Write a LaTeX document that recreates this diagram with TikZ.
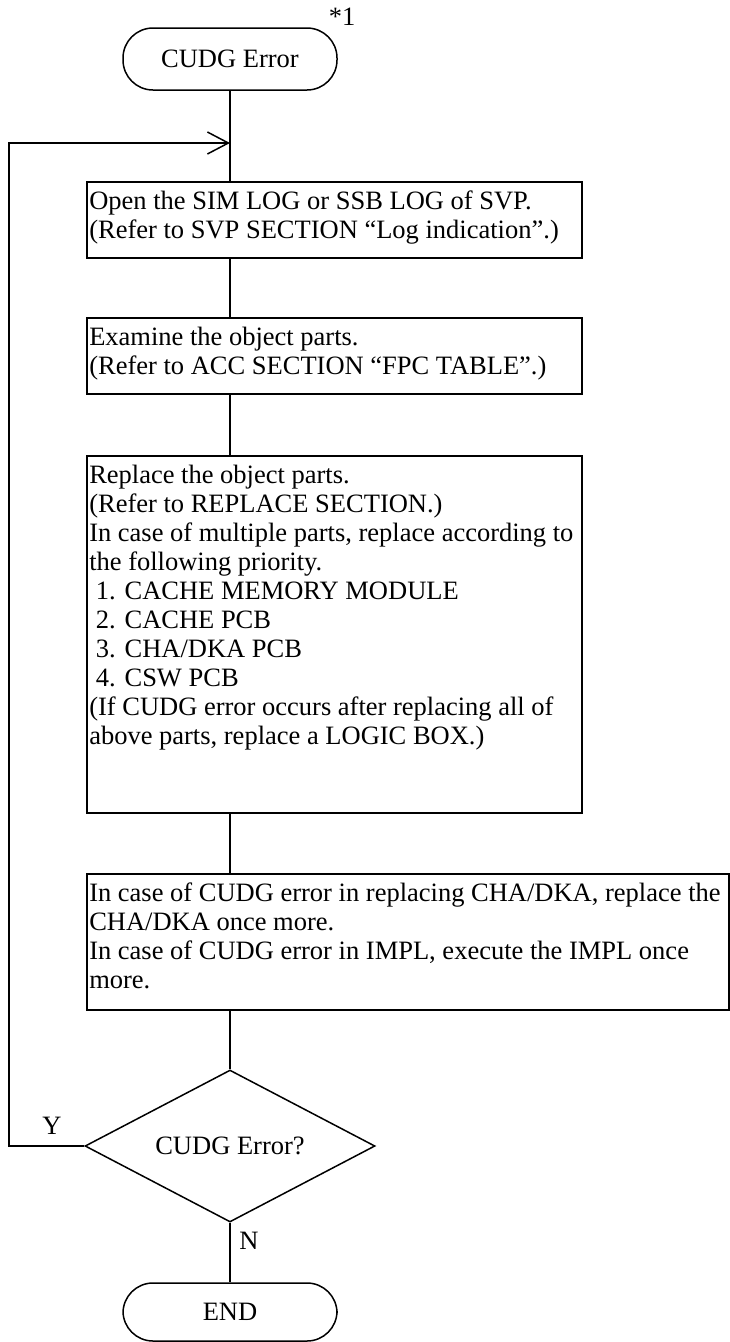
\documentclass[tikz,border=0pt]{standalone}
\usepackage{fontspec}
\setmainfont{Liberation Serif}
\usetikzlibrary{arrows.meta}
\usetikzlibrary{shapes.geometric}
\newcommand{\flowtext}[3]{\parbox[t][#2][t]{#1}{\rule{0pt}{23pt}#3}}
\newcommand{\itemsp}{\hspace*{0.25em}}

\begin{document}
\begin{tikzpicture}[x=1pt,y=-1pt,line width=1.5pt]
\tikzstyle{every node}=[font=\fontsize{26.5}{29}\selectfont]
\tikzstyle{term}=[draw,rounded corners=30pt,minimum width=214pt,minimum height=62pt]
\tikzstyle{proc}=[draw,anchor=north west,inner xsep=2.5pt,inner ysep=5pt]
\useasboundingbox (0,0) rectangle (729,1342);
\node[term] (start) at (230,59) {CUDG Error};
\node (mark) at (342,17) {*1};
\node[proc] (b1) at (86,181) {\flowtext{490pt}{66pt}{Open the SIM LOG or SSB LOG of SVP.\\
(Refer to SVP SECTION “Log indication”.)}};
\node[proc] (b2) at (86,317) {\flowtext{490pt}{66pt}{Examine the object parts.\\
(Refer to ACC SECTION “FPC TABLE”.)}};
\node[proc] (b3) at (86,455) {\flowtext{490pt}{347pt}{Replace the object parts.\\
(Refer to REPLACE SECTION.)\\
In case of multiple parts, replace according to\\
the following priority.\\
\itemsp 1. CACHE MEMORY MODULE\\
\itemsp 2. CACHE PCB\\
\itemsp 3. CHA/DKA PCB\\
\itemsp 4. CSW PCB\\
(If CUDG error occurs after replacing all of\\
above parts, replace a LOGIC BOX.)}};
\node[proc] (b4) at (86,873) {\flowtext{637pt}{126pt}{In case of CUDG error in replacing CHA/DKA, replace the\\
CHA/DKA once more.\\
In case of CUDG error in IMPL, execute the IMPL once\\
more.}};
\node[draw,diamond,aspect=1.9,minimum width=290pt,minimum height=152pt,inner sep=0pt] (dec) at (230,1146) {CUDG Error?};
\node[term,minimum height=58pt] (stop) at (230,1312) {END};
\node (yes) at (52,1126) {Y};
\node (no) at (249,1241) {N};
\coordinate (join) at (230,143);
\coordinate (loop) at (9,143);
% main flow
\draw (start.south) -- (start.south |- b1.north);
\draw (b1.south -| start) -- (b2.north -| start);
\draw (b2.south -| start) -- (b3.north -| start);
\draw (b3.south -| start) -- (b4.north -| start);
\draw (b4.south -| start) -- (dec.north);
\draw (dec.south) -- (stop.north);
% retry
\draw[-{Straight Barb[length=21pt,width=22pt]}] (dec.west) -| (loop) -- (join);
\end{tikzpicture}
\end{document}
